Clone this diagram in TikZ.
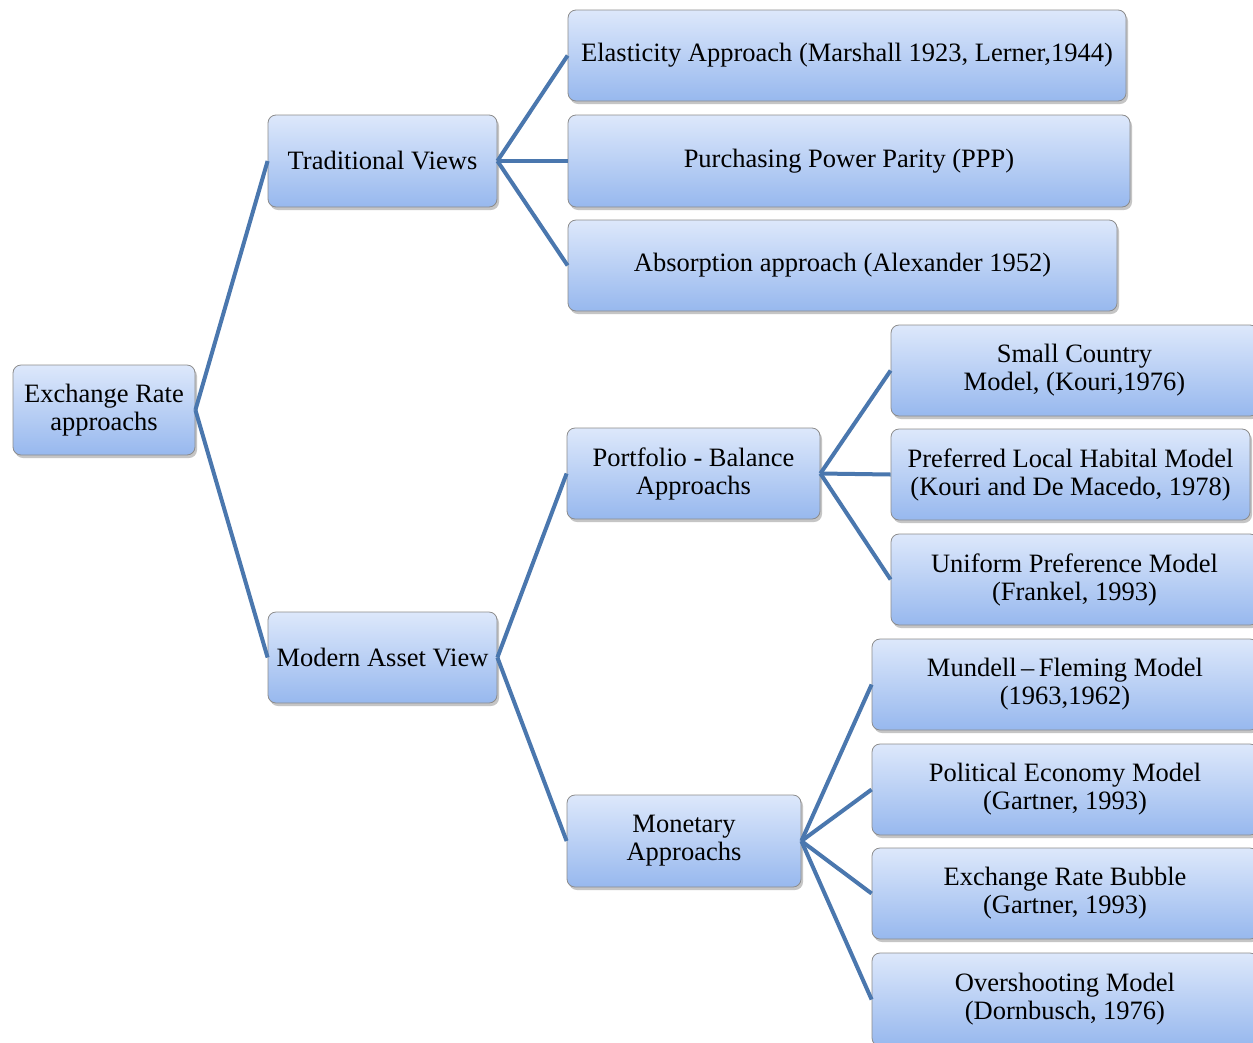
\documentclass[tikz,border=0pt]{standalone}
\usepackage{fontspec}
\setmainfont{Liberation Serif}
\usetikzlibrary{shadows}
\definecolor{boxtop}{HTML}{DDE8FB}
\definecolor{boxbot}{HTML}{97B8EE}
\definecolor{boxline}{HTML}{8C8C8C}
\definecolor{conn}{HTML}{4A77AE}
\tikzset{
  box/.style={draw=boxline, line width=0.8pt, rounded corners=8pt,
    top color=boxtop, bottom color=boxbot, align=center,
    font=\fontsize{26.5}{28}\selectfont, text=black, inner sep=2pt,
    drop shadow={shadow xshift=2pt, shadow yshift=-3pt, fill=black!45, opacity=0.5}},
  link/.style={draw=conn, line width=4pt},
}
\newcommand{\bx}[6]{% name, x1, y1, x2, y2, text
  \node[box, minimum width={#4-#2}, minimum height={#5-#3}] (#1) at ({(#2+#4)/2},{(#3+#5)/2}) {#6};}
\begin{document}
\begin{tikzpicture}[x=1pt,y=-1pt]
\useasboundingbox (0,0) rectangle (1253,1042);
\fill[white] (0,0) rectangle (1253,1042);
\bx{root}{13}{365}{195}{455}{Exchange Rate\\approachs}
\bx{trad}{268}{115}{497}{207}{Traditional Views}
\bx{modern}{268}{612}{497}{703}{Modern Asset View}
\bx{elast}{568}{10}{1126}{101}{Elasticity Approach (Marshall 1923, Lerner,1944)}
\bx{ppp}{568}{115}{1130}{207}{Purchasing Power Parity (PPP)}
\bx{absorb}{568}{220}{1117}{311}{Absorption approach (Alexander 1952)}
\bx{port}{567}{428}{820}{519}{Portfolio - Balance\\Approachs}
\bx{monet}{567}{795}{801}{887}{Monetary\\Approachs}
\bx{small}{891}{325}{1258}{416}{Small Country\\Model, (Kouri,1976)}
\bx{pref}{891}{429}{1250}{520}{Preferred Local Habital Model\\(Kouri and De Macedo, 1978)}
\bx{unif}{891}{534}{1258}{625}{Uniform Preference Model\\(Frankel, 1993)}
\bx{mund}{872}{639}{1258}{730}{Mundell\,--\,Fleming Model\\(1963,1962)}
\bx{polit}{872}{744}{1258}{835}{Political Economy Model\\(Gartner, 1993)}
\bx{bubble}{872}{848}{1258}{939}{Exchange Rate Bubble\\(Gartner, 1993)}
\bx{over}{872}{953}{1258}{1046}{Overshooting Model\\(Dornbusch, 1976)}
\begin{scope}[link]
\draw (root.east) -- (trad.west);
\draw (root.east) -- (modern.west);
\draw (trad.east) -- (elast.west);
\draw (trad.east) -- (ppp.west);
\draw (trad.east) -- (absorb.west);
\draw (modern.east) -- (port.west);
\draw (modern.east) -- (monet.west);
\draw (port.east) -- (small.west);
\draw (port.east) -- (pref.west);
\draw (port.east) -- (unif.west);
\draw (monet.east) -- (mund.west);
\draw (monet.east) -- (polit.west);
\draw (monet.east) -- (bubble.west);
\draw (monet.east) -- (over.west);
\end{scope}
\end{tikzpicture}
\end{document}
